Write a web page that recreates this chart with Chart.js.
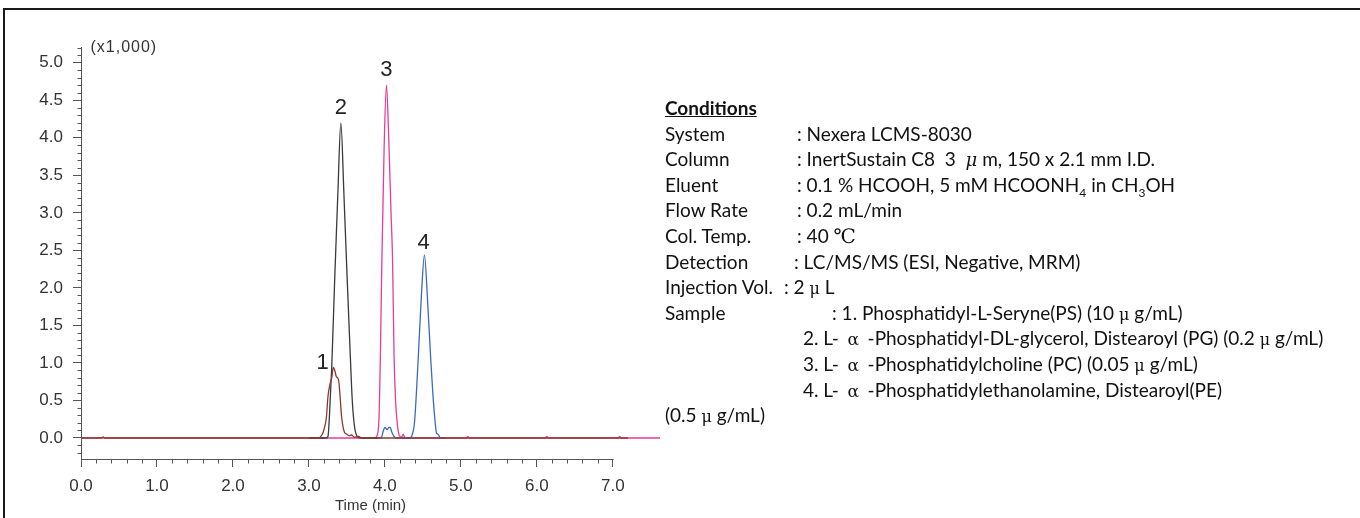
<!DOCTYPE html>
<html lang="en">
<head>
    <meta charset="UTF-8">
    <title>LC/MS/MS Phospholipids Chromatogram</title>
    <script src="https://cdn.jsdelivr.net/npm/chart.js"></script>
    <style>
        body { margin: 0; background: #fff; }
        .wrap { position: relative; width: 1360px; height: 518px; overflow: hidden; }
        .frame {
            position: absolute; left: 3px; top: 8px; width: 1400px; height: 600px;
            border-top: 2px solid #1a1a1a; border-left: 2px solid #1a1a1a;
        }
        #conditions {
            position: absolute; left: 665px; top: 95px;
            font-family: Lato, "Open Sans", sans-serif; font-size: 19px; line-height: 25.6px;
            color: #111;
        }
        #conditions div { white-space: pre; height: 25.6px; }
        #conditions .head { font-weight: bold; text-decoration: underline; }
        #conditions .lbl { display: inline-block; }
        #conditions .sym { font-family: "DejaVu Serif", serif; font-size: 16px; }
        #conditions .alpha { display: inline-block; width: 19px; text-align: center; font-family: "DejaVu Serif", serif; font-size: 17px; }
        #conditions .mu { font-family: "DejaVu Serif", serif; font-style: italic; font-size: 18px; }
        #conditions .deg { font-family: "DejaVu Serif", serif; font-size: 20px; }
        #conditions sub { font-size: 12px; line-height: 0; }
    </style>
</head>
<body>
    <div class="wrap">
        <canvas id="chromChart" width="1360" height="518"></canvas>
        <div class="frame"></div>
        <div id="conditions">
            <div class="head">Conditions</div>
            <div><span class="lbl" style="width:132px">System</span>: Nexera LCMS-8030</div>
            <div><span class="lbl" style="width:132px">Column</span>: InertSustain C8  3  <span class="mu">μ</span> m, 150 x 2.1 mm I.D.</div>
            <div><span class="lbl" style="width:132px">Eluent</span>: 0.1 % HCOOH, 5 mM HCOONH<sub>4</sub> in CH<sub>3</sub>OH</div>
            <div><span class="lbl" style="width:132px">Flow Rate</span>: 0.2 mL/min</div>
            <div><span class="lbl" style="width:132px">Col. Temp.</span>: 40 <span class="deg">℃</span></div>
            <div><span class="lbl" style="width:129px">Detection</span>: LC/MS/MS (ESI, Negative, MRM)</div>
            <div><span class="lbl" style="width:119px">Injection Vol.</span>: 2 <span class="sym">μ</span> L</div>
            <div><span class="lbl" style="width:167px">Sample</span>: 1. Phosphatidyl-L-Seryne(PS) (10 <span class="sym">μ</span> g/mL)</div>
            <div><span class="lbl" style="width:138px"></span>2. L- <span class="alpha">α</span> -Phosphatidyl-DL-glycerol, Distearoyl (PG) (0.2 <span class="sym">μ</span> g/mL)</div>
            <div><span class="lbl" style="width:138px"></span>3. L- <span class="alpha">α</span> -Phosphatidylcholine (PC) (0.05 <span class="sym">μ</span> g/mL)</div>
            <div><span class="lbl" style="width:138px"></span>4. L- <span class="alpha">α</span> -Phosphatidylethanolamine, Distearoyl(PE)</div>
            <div>(0.5 <span class="sym">μ</span> g/mL)</div>
        </div>
    </div>

    <script>
        // Retention time (min) and intensity (x1,000)
        const timePS = [0, 0.27, 0.29, 0.31, 1.5, 3.0, 3.12, 3.17, 3.2, 3.23, 3.25, 3.28, 3.3, 3.32, 3.34, 3.36, 3.39, 3.41, 3.43, 3.45, 3.47, 3.5, 3.53, 3.56, 3.6, 3.65, 3.7, 4.5, 5.5, 7.2];
        const valuesPS = [0, 0, 0.015, 0, 0, 0, 0, 0.04, 0.12, 0.28, 0.55, 0.73, 0.8, 0.94, 0.9, 0.82, 0.77, 0.55, 0.28, 0.14, 0.07, 0.05, 0.03, 0.04, 0.01, 0.02, 0, 0, 0, 0];

        const timePG = [3.0, 3.22, 3.25, 3.27, 3.3, 3.34, 3.38, 3.42, 3.46, 3.5, 3.54, 3.57, 3.6, 3.63, 3.68, 3.9];
        const valuesPG = [0, 0, 0.02, 0.3, 0.95, 2.15, 3.25, 4.2, 3.25, 2.2, 1.2, 0.5, 0.15, 0.03, 0, 0];

        const timePC = [0, 2.0, 3.86, 3.89, 3.92, 3.94, 3.96, 3.99, 4.02, 4.05, 4.08, 4.1, 4.12, 4.14, 4.16, 4.19, 4.22, 4.24, 4.26, 4.3, 5.07, 5.09, 5.11, 6.11, 6.13, 6.15, 7.07, 7.09, 7.11, 7.62];
        const valuesPC = [0, 0, 0, 0.02, 0.22, 1.1, 2.39, 3.9, 4.7, 4.0, 3.0, 2.39, 1.1, 0.5, 0.22, 0.03, 0.01, 0.05, 0.01, 0, 0, 0.02, 0, 0, 0.02, 0, 0, 0.02, 0, 0];

        const timePE = [3.85, 3.95, 3.98, 4.0, 4.03, 4.05, 4.07, 4.09, 4.12, 4.15, 4.33, 4.35, 4.39, 4.44, 4.48, 4.52, 4.56, 4.6, 4.63, 4.66, 4.68, 4.7, 4.72, 4.75, 4.8];
        const valuesPE = [0, 0, 0.1, 0.14, 0.11, 0.14, 0.14, 0.08, 0.02, 0, 0, 0.02, 0.22, 1.1, 1.9, 2.44, 1.85, 1.1, 0.6, 0.22, 0.06, 0.05, 0.01, 0, 0];

        // Peak number labels (anchor time, intensity)
        const peakNames = ['1', '2', '3', '4'];
        const peakLabelTime = [3.18, 3.42, 4.02, 4.51];
        const peakLabelValue = [1.0, 4.4, 4.9, 2.6];

        const toPoints = (t, v) => t.map((x, i) => ({ x, y: v[i] }));

        // Minor ticks, axis lines, peak numbers and the (x1,000) note
        const chromExtras = {
            id: 'chromExtras',
            afterDraw(chart) {
                const { ctx, chartArea, scales: { x, y } } = chart;
                const ax = Math.round(x.getPixelForValue(0)) + 0.5;
                const ay = Math.round(chartArea.bottom) + 0.5;
                ctx.save();
                ctx.strokeStyle = '#555';
                ctx.lineWidth = 1;
                ctx.beginPath();
                ctx.moveTo(ax, chartArea.top);
                ctx.lineTo(ax, ay);
                ctx.lineTo(Math.round(x.getPixelForValue(7)) + 0.5, ay);
                for (let k = -2; k <= 52; k++) {
                    if (k % 5 === 0) continue;
                    const py = Math.round(y.getPixelForValue(k / 10)) + 0.5;
                    ctx.moveTo(ax - 4, py);
                    ctx.lineTo(ax, py);
                }
                for (let k = 1; k < 35; k++) {
                    if (k % 5 === 0) continue;
                    const px = Math.round(x.getPixelForValue(k / 5)) + 0.5;
                    ctx.moveTo(px, ay);
                    ctx.lineTo(px, ay + 4);
                }
                ctx.stroke();

                ctx.fillStyle = '#222';
                ctx.font = '22px "Liberation Sans", Arial, sans-serif';
                ctx.textAlign = 'center';
                ctx.textBaseline = 'middle';
                peakNames.forEach((name, i) => {
                    ctx.fillText(name, x.getPixelForValue(peakLabelTime[i]), y.getPixelForValue(peakLabelValue[i]));
                });

                ctx.fillStyle = '#333';
                ctx.font = '16px "Liberation Sans", Arial, sans-serif';
                ctx.textAlign = 'left';
                if ('letterSpacing' in ctx) ctx.letterSpacing = '1px';
                ctx.fillText('(x1,000)', ax + 9, 48);
                ctx.restore();
            }
        };

        const tickFont = { family: '"Liberation Sans", Arial, sans-serif', size: 17 };

        new Chart(document.getElementById('chromChart'), {
            type: 'line',
            data: {
                datasets: [
                    { label: 'PS', data: toPoints(timePS, valuesPS), borderColor: '#8a3a30' },
                    { label: 'PG', data: toPoints(timePG, valuesPG), borderColor: '#3a3a3a' },
                    { label: 'PE', data: toPoints(timePE, valuesPE), borderColor: '#3a6bc0' },
                    { label: 'PC', data: toPoints(timePC, valuesPC), borderColor: '#e83d94' }
                ]
            },
            options: {
                responsive: false,
                animation: false,
                layout: { padding: { left: 0, top: 47, right: 700, bottom: 0 } },
                elements: {
                    point: { radius: 0 },
                    line: { borderWidth: 1.3, cubicInterpolationMode: 'monotone', fill: false }
                },
                plugins: { legend: { display: false }, tooltip: { enabled: false } },
                scales: {
                    x: {
                        type: 'linear',
                        min: 0,
                        max: 7.62,
                        afterFit: (scale) => { scale.height = 59; },
                        border: { display: false },
                        grid: { drawOnChartArea: false, color: '#555', tickLength: 8 },
                        ticks: {
                            stepSize: 1, includeBounds: false, maxRotation: 0, padding: 9,
                            color: '#333', font: tickFont,
                            callback: (v) => v.toFixed(1)
                        },
                        title: {
                            display: true, text: 'Time (min)', color: '#333',
                            font: { family: '"Liberation Sans", Arial, sans-serif', size: 15 },
                            padding: { top: 0, bottom: 3 }
                        }
                    },
                    y: {
                        min: -0.28,
                        max: 5.21,
                        afterFit: (scale) => { scale.width = 81; },
                        border: { display: false },
                        grid: { drawOnChartArea: false, color: '#555', tickLength: 8 },
                        ticks: {
                            stepSize: 0.5, includeBounds: false, padding: 10,
                            color: '#333', font: tickFont,
                            callback: (v) => v.toFixed(1)
                        }
                    }
                }
            },
            plugins: [chromExtras]
        });
    </script>
</body>
</html>
